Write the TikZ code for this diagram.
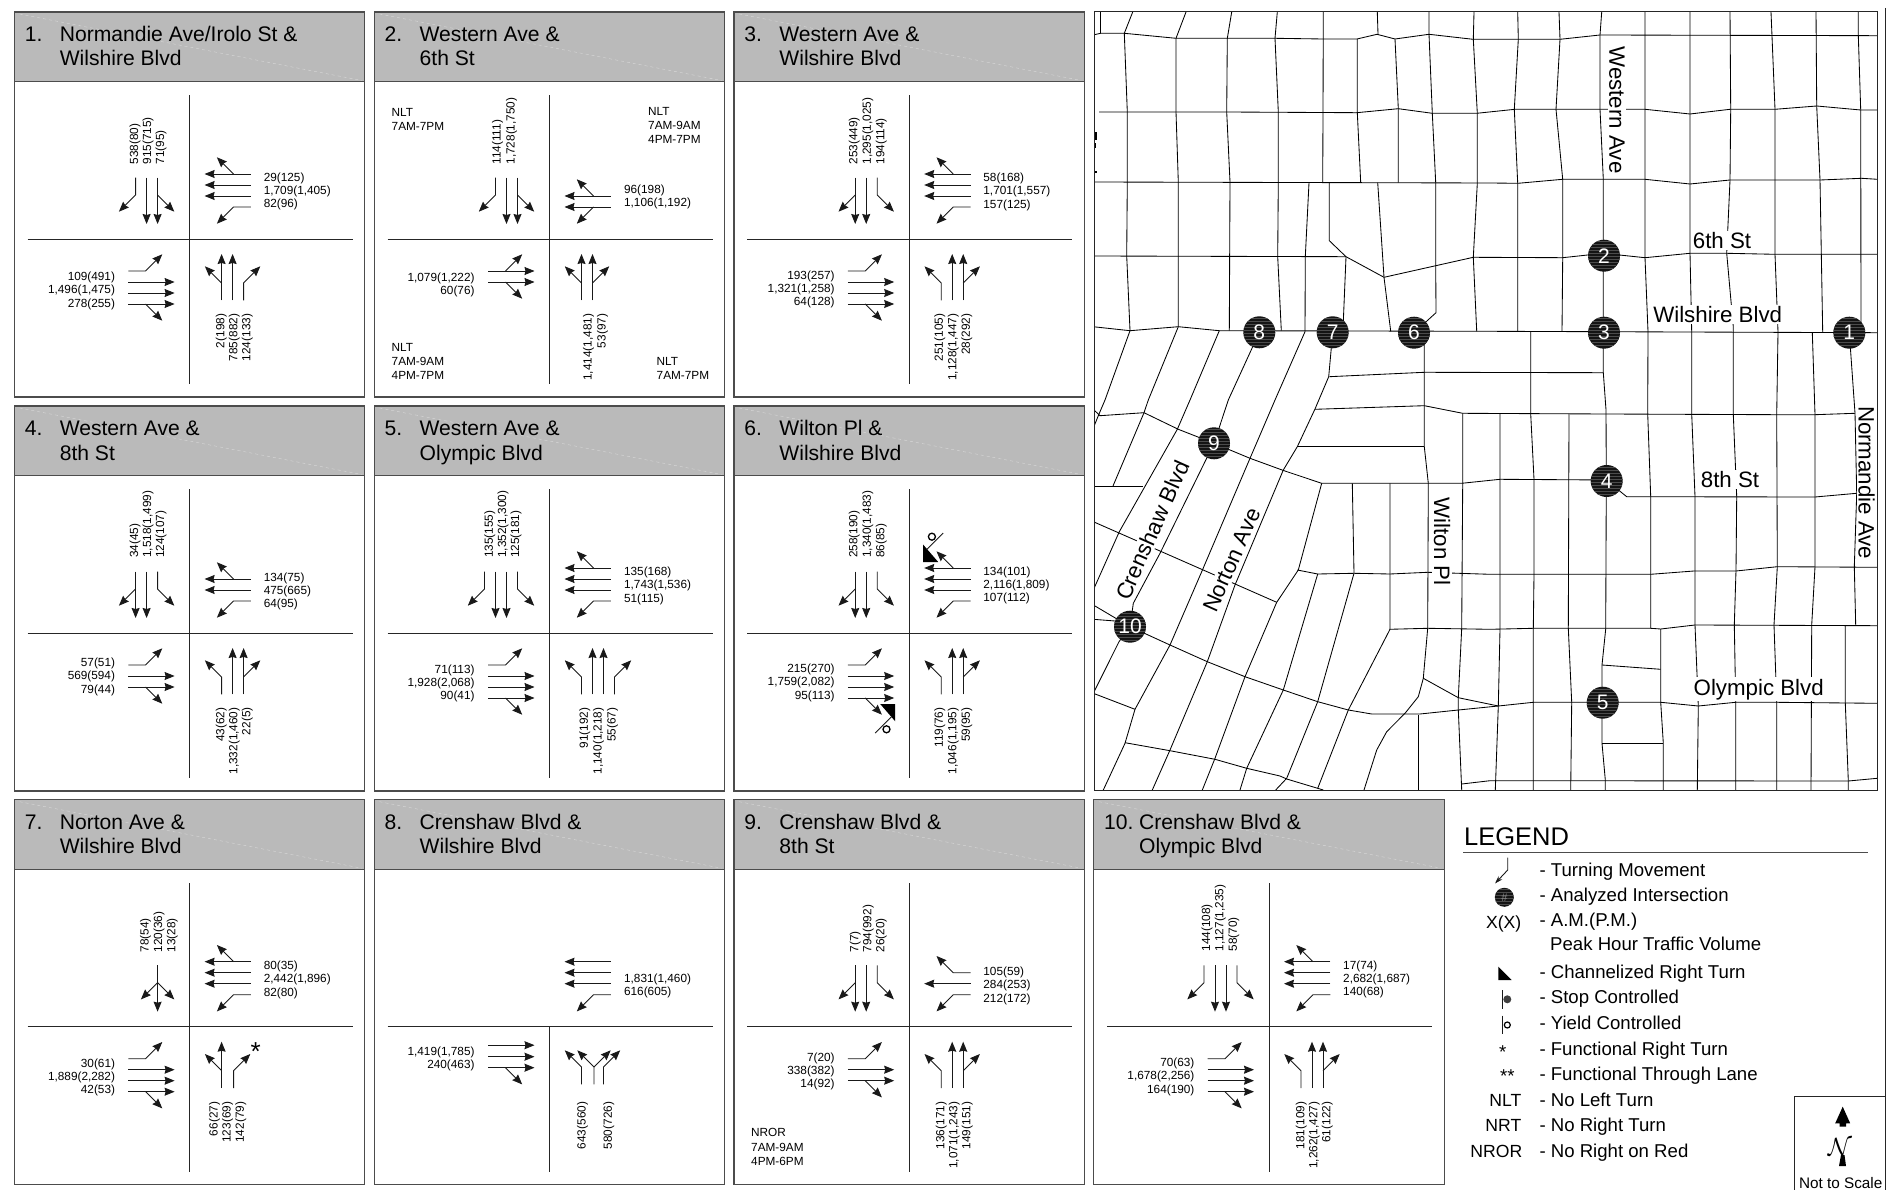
\documentclass[tikz,border=0pt]{standalone}
\usepackage{fontspec}
\setmainfont{Liberation Sans}
\usetikzlibrary{calc, arrows.meta}

% One approach lane, written for traffic going up the page: lateral offset as argument
\newcommand{\laneT}[1]{\draw[->, lane] (#1,61.3) -- (#1,15);}
\newcommand{\laneL}[1]{\draw[->, lane] (#1,61.3) -- (#1,44) -- ++(-16.7,-16.7);}
\newcommand{\laneR}[1]{\draw[->, lane] (#1,61.3) -- (#1,44) -- ++(16.7,-16.7);}
\newcommand{\laneTL}[1]{\laneT{#1}\draw[->, lane] (#1,44) -- ++(-16.7,-16.7);}
\newcommand{\laneTR}[1]{\laneT{#1}\draw[->, lane] (#1,44) -- ++(16.7,-16.7);}
\newcommand{\laneLR}[1]{\laneL{#1}\draw[->, lane] (#1,44) -- ++(16.7,-16.7);}
\newcommand{\laneTLR}[1]{\laneTL{#1}\draw[->, lane] (#1,44) -- ++(16.7,-16.7);}

% Crossing, rotation, shift along the approach, lanes
\newcommand{\arm}[4]{%
  \begin{scope}[shift={(#1)}, rotate=#2, shift={(0,#3)}]
    \foreach \lat/\kind in {#4} {\csname lane\kind\endcsname{\lat}}
  \end{scope}
}

% Crossing, east or west anchor, first line position, volumes
\newcommand{\volsH}[5]{%
  \foreach \txt [count=\k from 0] in {#5}
    \node[volume, anchor=mid #2] (#1#2\k) at ($(#1)+(#3,#4+13.2*\k+1.4)$) {\txt};
}
% Crossing, east or west anchor, first line position, step, volumes
\newcommand{\volsV}[6]{%
  \foreach \txt [count=\k from 0] in {#6}
    \node[volume, rotate=90, anchor=mid #2] (#1v#2\k) at ($(#1)+(#3+#5*\k+1.4,#4)$) {\txt};
}

% Name, crossing position, number, two title lines
\newcommand{\intbox}[6]{%
  \coordinate (#1) at (#2,#3);
  \fill[headgray] ($(#1)+(-175.2,-227)$) rectangle ($(#1)+(175.2,-157.3)$);
  \draw[headmark] ($(#1)+(-170,-225)$) -- ($(#1)+(172,-158.5)$);
  \draw[boxline] ($(#1)+(-175.2,-227)$) rectangle ($(#1)+(175.2,158)$);
  \draw[boxline] ($(#1)+(-175.2,-157.3)$) -- ($(#1)+(175.2,-157.3)$);
  \node[headtext] (#1num) at ($(#1)+(-165,-197.3)$) {#4};
  \node[headtext] (#1top) at ($(#1)+(-130,-197.3)$) {#5};
  \node[headtext] (#1low) at ($(#1)+(-130,-173)$) {#6};
  \draw[street] ($(#1)+(-162,0)$) -- ($(#1)+(163,0)$);
  \draw[street] (#1) -- ($(#1)+(0,145)$);
}

\begin{document}
\begin{tikzpicture}[x=1pt, y=-1pt, >={Stealth[length=10pt, width=8pt, inset=1pt]}]

  % Styles
  \tikzset{
    headgray/.style={fill=black!27},
    headmark/.style={white!85!black, dashed, line width=0.4pt},
    boxline/.style={black!70, line width=1.3pt},
    street/.style={black!85, line width=0.9pt},
    lane/.style={black!90, line width=0.9pt},
    headtext/.style={anchor=base west, inner sep=0pt, font=\fontsize{21.1}{25}\selectfont},
    volume/.style={inner sep=0pt, font=\fontsize{11.8}{13.5}\selectfont},
    notetext/.style={anchor=north west, align=left, inner sep=0pt, font=\fontsize{11.8}{14}\selectfont},
    road/.style={black, line width=0.85pt, line join=round},
    roadname/.style={fill=white, inner sep=1.5pt, font=\fontsize{22.3}{26}\selectfont},
    isect/.style={circle, fill=black!92, text=white, inner sep=0pt, minimum size=32pt,
      font=\fontsize{21}{25}\selectfont,
      path picture={\foreach \dy in {-14,-11,...,14}
        \draw[black!70, line width=0.4pt] ($(path picture bounding box.center)+(-17,\dy)$) -- ++(34,0);}},
    legtext/.style={anchor=base west, inner sep=0pt, font=\fontsize{18.6}{22}\selectfont},
    legkey/.style={anchor=base east, inner sep=0pt, font=\fontsize{17.6}{21}\selectfont}
  }

  \path[use as bounding box, fill=white] (0,0) rectangle (1891,1190);

  % Panel 1
  \intbox{pa}{189.6}{239}{1.}{Normandie Ave/Irolo St \&}{Wilshire Blvd}
  \arm{pa}{180}{0}{32/TL,43/T,54/R}
  \arm{pa}{90}{0}{32/L,43/T,54/T,65/TR}
  \arm{pa}{270}{0}{32/L,43/T,54/T,65/TR}
  \arm{pa}{0}{0}{32/TL,43/T,54/R}
  \volsV{pa}{west}{-55.5}{-74.3}{13}{538(80),915(715),71(95)}
  \volsH{pa}{west}{74}{-61.7}{29(125),{1,709(1,405)},82(96)}
  \volsH{pa}{east}{-74.4}{37.7}{109(491),{1,496(1,475)},278(255)}
  \volsV{pa}{east}{30.8}{74.7}{13}{2(198),785(882),124(133)}

  % Panel 2
  \intbox{pb}{549.5}{239}{2.}{Western Ave \&}{6th St}
  \draw[street] (pb) -- ($(pb)+(0,-144)$);
  \arm{pb}{180}{0}{32/TL,43/T,54/R}
  \arm{pb}{90}{0}{32/TL,43/TR}
  \arm{pb}{270}{0}{32/TL,43/TR}
  \arm{pb}{0}{0}{32/TL,43/TR}
  \volsV{pb}{west}{-52.8}{-74.3}{13.8}{114(111),{1,728(1,750)}}
  \volsH{pb}{west}{74.4}{-49.3}{96(198),{1,106(1,192)}}
  \volsH{pb}{east}{-74.8}{38}{{1,079(1,222)},60(76)}
  \volsV{pb}{east}{38}{74.7}{14}{{1,414(1,481)},53(97)}
  \node[notetext] (nltnw) at (391.5,108.5) {NLT\\7AM-7PM};
  \node[notetext] (nltne) at (648,107.5) {NLT\\7AM-9AM\\4PM-7PM};
  \node[notetext] (nltsw) at (391.5,343.5) {NLT\\7AM-9AM\\4PM-7PM};
  \node[notetext] (nltse) at (656.5,357.5) {NLT\\7AM-7PM};

  % Panel 3
  \intbox{pc}{909.2}{239}{3.}{Western Ave \&}{Wilshire Blvd}
  \arm{pc}{180}{0}{32/L,43/T,54/TR}
  \arm{pc}{90}{0}{32/L,43/T,54/T,65/TR}
  \arm{pc}{270}{0}{32/L,43/T,54/T,65/TR}
  \arm{pc}{0}{0}{32/L,43/T,54/TR}
  \volsV{pc}{west}{-56}{-74.3}{13.6}{253(449),{1,295(1,025)},194(114)}
  \volsH{pc}{west}{74}{-61.3}{58(168),{1,701(1,557)},157(125)}
  \volsH{pc}{east}{-74.4}{36.3}{193(257),{1,321(1,258)},64(128)}
  \volsV{pc}{east}{29.7}{74.7}{13.5}{251(105),{1,128(1,447)},28(292)}

  % Panel 4
  \intbox{pd}{189.6}{633}{4.}{Western Ave \&}{8th St}
  \arm{pd}{180}{0}{32/L,43/T,54/TR}
  \arm{pd}{90}{0}{32/L,43/T,54/TR}
  \arm{pd}{270}{0}{32/L,43/T,54/TR}
  \arm{pd}{0}{0}{32/L,43/T,54/TR}
  \volsV{pd}{west}{-55.5}{-75}{13}{34(45),{1,518(1,499)},124(107)}
  \volsH{pd}{west}{74}{-55.7}{134(75),475(665),64(95)}
  \volsH{pd}{east}{-74.4}{29.7}{57(51),569(594),79(44)}
  \volsV{pd}{east}{30.8}{74.3}{13}{43(62),{1,332(1,460)},22(5)}

  % Panel 5
  \intbox{pe}{549.5}{633}{5.}{Western Ave \&}{Olympic Blvd}
  \arm{pe}{180}{0}{32/L,43/T,54/T,65/R}
  \arm{pe}{90}{0}{32/L,43/T,54/T,65/TR}
  \arm{pe}{270}{0}{32/L,43/T,54/T,65/TR}
  \arm{pe}{0}{0}{32/L,43/T,54/T,65/R}
  \volsV{pe}{west}{-60.6}{-75}{13.1}{135(155),{1,352(1,300)},125(181)}
  \volsH{pe}{west}{74.4}{-61.3}{135(168),{1,743(1,536)},51(115)}
  \volsH{pe}{east}{-74.8}{36}{71(113),{1,928(2,068)},90(41)}
  \volsV{pe}{east}{34.4}{74.3}{13.8}{91(192),{1,140(1,218)},55(67)}

  % Panel 6
  \intbox{pf}{909.2}{633}{6.}{Wilton Pl \&}{Wilshire Blvd}
  \arm{pf}{180}{0}{32/L,43/T,54/TR}
  \arm{pf}{90}{0}{32/L,43/T,54/T,65/TR}
  \arm{pf}{270}{0}{32/L,43/T,54/T,65/TR}
  \arm{pf}{0}{0}{32/L,43/T,54/TR}
  \volsV{pf}{west}{-56}{-75}{13.6}{258(190),{1,340(1,483)},86(85)}
  \volsH{pf}{west}{74}{-61.7}{134(101),{2,116(1,809)},107(112)}
  \volsH{pf}{east}{-74.4}{35.7}{215(270),{1,759(2,082)},95(113)}
  \volsV{pf}{east}{29.7}{74.3}{13.5}{119(76),{1,046(1,195)},59(95)}
  % Channelized right turns with yield marks
  \foreach \ang in {0,180} {
    \begin{scope}[shift={(pf)}, rotate=\ang]
      \fill (14,-88.3) -- (14,-71) -- (29,-71) -- cycle;
      \draw[lane] (34,-100) -- (17.3,-83.3);
      \draw[line width=1.3pt] (22.7,-96.3) circle (3.5);
    \end{scope}
  }

  % Panel 7
  \intbox{pg}{189.6}{1026.7}{7.}{Norton Ave \&}{Wilshire Blvd}
  \arm{pg}{180}{0}{32/TLR}
  \arm{pg}{90}{0}{32/L,43/T,54/T,65/TR}
  \arm{pg}{270}{0}{32/L,43/T,54/T,65/TR}
  \arm{pg}{0}{0}{32/TL,44/R}
  \volsV{pg}{west}{-45}{-74.3}{13.4}{78(54),120(36),13(28)}
  \volsH{pg}{west}{74}{-61}{80(35),{2,442(1,896)},82(80)}
  \volsH{pg}{east}{-74.4}{36.3}{30(61),{1,889(2,282)},42(53)}
  \volsV{pg}{east}{23.9}{75}{13.2}{66(27),123(69),142(79)}
  \node[anchor=base, inner sep=0pt, font=\fontsize{26}{30}\selectfont] (star) at (255.6,1060.5) {*};

  % Panel 8
  \intbox{ph}{549.5}{1026.7}{8.}{Crenshaw Blvd \&}{Wilshire Blvd}
  \arm{ph}{90}{0}{32/L,43/T,54/T,65/T}
  \arm{ph}{270}{0}{18.5/T,30/T,41/TR}
  \arm{ph}{0}{-3.7}{32/L,44.5/LR,54/R}
  \volsH{ph}{west}{74.4}{-48.3}{{1,831(1,460)},616(605)}
  \volsH{ph}{east}{-74.8}{25}{{1,419(1,785)},240(463)}
  \volsV{ph}{east}{32}{75}{26.3}{643(560),580(726)}

  % Panel 9
  \intbox{pi}{909.2}{1026.7}{9.}{Crenshaw Blvd \&}{8th St}
  \arm{pi}{180}{0}{32/L,43/T,54/TR}
  \arm{pi}{90}{0}{32/L,43/T,54/R}
  \arm{pi}{270}{0}{32/L,43/T,54/TR}
  \arm{pi}{0}{0}{32/L,43/T,54/TR}
  \volsV{pi}{west}{-55}{-74.3}{13}{7(7),794(992),26(20)}
  \volsH{pi}{west}{74}{-55}{105(59),284(253),212(172)}
  \volsH{pi}{east}{-74.4}{30.7}{7(20),338(382),14(92)}
  \volsV{pi}{east}{31}{75}{13}{136(171),{1,071(1,243)},149(151)}
  \node[notetext, font=\fontsize{11.8}{14.5}\selectfont] (nrornote) at (751,1128.5) {NROR\\7AM-9AM\\4PM-6PM};

  % Panel 10
  \intbox{pj}{1269}{1026.7}{10.}{Crenshaw Blvd \&}{Olympic Blvd}
  \arm{pj}{180}{0}{32/L,43/T,54/T,65/R}
  \arm{pj}{90}{0}{32/L,43/T,54/T,65/TR}
  \arm{pj}{270}{0}{32/L,43/T,54/T,65/TR}
  \arm{pj}{0}{0}{32/L,43/T,54/TR}
  \volsV{pj}{west}{-63}{-75}{13.4}{144(108),{1,127(1,235)},58(70)}
  \volsH{pj}{west}{74}{-61.7}{17(74),{2,682(1,687)},140(68)}
  \volsH{pj}{east}{-74.4}{36}{70(63),{1,678(2,256)},164(190)}
  \volsV{pj}{east}{31.2}{75}{13}{181(109),{1,262(1,427)},61(122)}

  % Upper arms of the crossings
  \foreach \c in {pa,pc,pd,pe,pf,pg,pi,pj}
    \draw[street] (\c) -- ($(\c)+(0,-144)$);

  % Street grid of the map
  \begin{scope}
    \clip (1094,12) rectangle (1877.3,790);

    % East-west streets
    \draw[road] (1093,35) -- (1100.7,33.3) -- (1124.3,33.3) -- (1176,38.3) -- (1275,38.3) -- (1323,39) -- (1357,39) -- (1377,34.3) -- (1395,39) -- (1429,34.3) -- (1473,39.3) -- (1560,39.3) -- (1600,35) -- (1877.3,35.7);
    \draw[road] (1099,112) -- (1226.7,112) -- (1356.7,112.7) -- (1398.3,108.7) -- (1432.3,113.3) -- (1476.7,113.3) -- (1515,109.3) -- (1645,109.3) -- (1690,114) -- (1730,109.3) -- (1775,109.3) -- (1816.7,106) -- (1860.7,110) -- (1877.3,110);
    \draw[road] (1093,182) -- (1490,183) -- (1518,183.3) -- (1562.7,179.3) -- (1645,179.3) -- (1690,184) -- (1730,180) -- (1820,180) -- (1861.7,178.3) -- (1877.3,179.3);
    \draw[road] (1093,256) -- (1346,256.7) -- (1384,277.3) -- (1473.3,257.3) -- (1562.7,257.7) -- (1603.3,253.3) -- (1645,257.7) -- (1690,253.3) -- (1726.7,253.3) -- (1775,254.3) -- (1877.3,254.3);
    \draw[road] (1329.3,182.7) -- (1329.3,240.7) -- (1346,256.7);
    \draw[road] (1093,326.7) -- (1130,330.7) -- (1178.3,326.7) -- (1219.3,330.7) -- (1490,331.3) -- (1877.3,332.7);
    \draw[road] (1329.3,376.7) -- (1424.3,372.3) -- (1603.3,372.7);
    \draw[road] (1094,410) -- (1100,415.7) -- (1144,412.7) -- (1178.3,429.3) -- (1214,443.3) -- (1250,458.3) -- (1284,470.7) -- (1321.7,483.3) -- (1461.7,483.3) -- (1500,479.3) -- (1606,480) -- (1626.7,496.7) -- (1815,497) -- (1856.7,493.3);
    \draw[road] (1315,409.3) -- (1424.3,405.7) -- (1462.7,413.3) -- (1606,414) -- (1776.7,414.7) -- (1815,414.7) -- (1855,413.3);
    \draw[road] (1297.3,446.7) -- (1424.3,446.7);
    \draw[road] (1093.3,486.7) -- (1143.3,486.7);
    \draw[road] (1093.3,521.7) -- (1276.7,602.3);
    \draw[road] (1297.3,570) -- (1317.7,574) -- (1354,573.3) -- (1390,574) -- (1427.7,572.3) -- (1490,574.3) -- (1650.7,574.3) -- (1694,571) -- (1736,571) -- (1777.3,566.7) -- (1877.3,567.3);
    \draw[road] (1389.3,629.3) -- (1427.7,628.3) -- (1490,629.3) -- (1533.3,628.3) -- (1650.7,628.3) -- (1660.7,629) -- (1695,625) -- (1877.3,625.7);
    \draw[road] (1602,665) -- (1660.7,669.3);
    \draw[road] (1093.3,605) -- (1130,626.7) -- (1170,645) -- (1207.3,661.7) -- (1245,676.7) -- (1283.3,690) -- (1317.7,701.7) -- (1348.3,710) -- (1371.7,714) -- (1420,714) -- (1458.3,710) -- (1498.3,706) -- (1533.3,702.3) -- (1660.7,702.3) -- (1698.3,706) -- (1735.7,702.3) -- (1776.7,702.3) -- (1877.3,703.3);
    \draw[road] (1093.3,619.3) -- (1115,621);
    \draw[road] (1423.3,678.3) -- (1458.3,697.7) -- (1498.3,706);
    \draw[road] (1093.3,693.3) -- (1135,709.3);
    \draw[road] (1602,743.3) -- (1663.3,743.3);
    \draw[road] (1125,742.7) -- (1170,750.7) -- (1215,759.3) -- (1246.7,768.3) -- (1280,776) -- (1286.7,779) -- (1323.3,790);
    \draw[road] (1461.7,784) -- (1490,780.7) -- (1848.3,781) -- (1877.3,778.3);

    % North-south streets, west part
    \draw[road] (1100.7,12) -- (1100.7,33.3);
    \draw[road] (1132.7,12) -- (1124.3,33.3) -- (1127.3,112) -- (1127.3,182) -- (1126.7,256) -- (1130,330.7) -- (1105,400) -- (1098.3,415.7) -- (1093.3,428);
    \draw[road] (1186,12) -- (1176,38.3) -- (1176,112) -- (1178.3,182) -- (1178.3,326.7) -- (1148.3,400) -- (1144,412.7) -- (1112.7,486.7);
    \draw[road] (1231.7,12) -- (1227.3,38.3) -- (1226.7,112) -- (1230,182) -- (1229.3,330.7);
    \draw[road] (1219.3,330.7) -- (1190,400) -- (1177.3,429.3) -- (1119.3,531.7) -- (1093.3,590);
    \draw[road] (1259.3,332.3) -- (1228.3,400) -- (1214,443.3) -- (1160,553.3) -- (1133.3,603.3) -- (1130,626.7) -- (1119,641.7) -- (1093.3,693.3);
    \draw[road] (1277.3,12) -- (1275,38.3) -- (1278.3,112) -- (1278.3,182) -- (1277.7,256.7) -- (1281.3,330.7);
    \draw[road] (1309,182.7) -- (1305.3,256.7) -- (1305,331.7) -- (1275,400) -- (1250,458.3) -- (1201.7,571.7) -- (1170,645) -- (1135,709.3) -- (1125,743.3) -- (1103.3,790);
    \draw[road] (1323.3,12) -- (1323,112.7) -- (1322.7,182.7);
    \draw[road] (1343.3,321.7) -- (1346,256.7);
    \draw[road] (1332.7,332.3) -- (1328.7,376.7) -- (1315,409) -- (1297.3,446.7) -- (1283.3,470) -- (1235,585) -- (1207.3,661.7) -- (1170,750) -- (1152.3,790);
    \draw[road] (1321.7,483.3) -- (1298.3,570) -- (1276.7,602.3) -- (1245,676.7) -- (1215,758.3) -- (1202.3,790);
    \draw[road] (1317.7,574) -- (1283.3,690) -- (1246.7,768.3) -- (1240,790);
    \draw[road] (1352.3,483.3) -- (1354,573.3) -- (1317.7,701.7) -- (1286.7,778.3) -- (1275.7,790);
    \draw[road] (1390,483.3) -- (1390,629.3) -- (1348.3,710) -- (1317.7,788.3);
    \draw[road] (1357.3,39) -- (1357.3,112.7) -- (1360.7,182.7);
    \draw[road] (1377.3,12) -- (1378,34.3);
    \draw[road] (1395,39) -- (1398.3,108.7) -- (1398.3,182.7);
    \draw[road] (1377.7,182.7) -- (1384,277.3) -- (1390.7,331.3);
    \draw[road] (1429,12) -- (1429,34.3) -- (1432.3,113.3) -- (1435.7,182.7) -- (1435.7,265) -- (1436,312.7) -- (1414,332.7);
    \draw[road] (1424.3,331.7) -- (1424.3,446.7) -- (1428.3,483.3) -- (1427.7,628.3) -- (1424.3,666.7) -- (1423.3,678.3) -- (1418.3,696.7) -- (1405,713.3) -- (1386.7,731.7) -- (1376.7,750) -- (1364,790);
    \draw[road] (1418.3,715) -- (1418.3,790);
    \draw[road] (1474,12) -- (1473.3,39.3) -- (1477.3,113.3) -- (1477.3,183.3) -- (1473.3,257.3) -- (1476.7,331.3);
    \draw[road] (1462.7,413.3) -- (1462.7,483.3) -- (1461.7,628.3) -- (1458.3,697.7) -- (1458.3,710) -- (1461.7,790);

    % North-south streets, east part
    \draw[road] (1500,414) -- (1500,629.3) -- (1498.3,706) -- (1495.3,790);
    \draw[road] (1517.7,12) -- (1518.3,39.3) -- (1514.3,109.3) -- (1517.7,183.3) -- (1517.7,331.7);
    \draw[road] (1530.7,331.7) -- (1530.7,414) -- (1534,479.3) -- (1534,574.3) -- (1533.3,628.3) -- (1533.3,790);
    \draw[road] (1559,12) -- (1560,39.3) -- (1556,109.3) -- (1562.7,179.3) -- (1562.7,257.7) -- (1562,331.7);
    \draw[road] (1569,414) -- (1568.3,628.3) -- (1571.7,702.3) -- (1570.7,790);
    \draw[road] (1601.7,12) -- (1600,35) -- (1600,109.3) -- (1603.3,179.3) -- (1603.3,372.7) -- (1606,410) -- (1606.3,481) -- (1605.7,629) -- (1602,665) -- (1602,743.3) -- (1605.3,780) -- (1605.3,790);
    \draw[road] (1645,12) -- (1645,257.7) -- (1648,331.7) -- (1647.7,414) -- (1650.7,496.7) -- (1650.7,628.3);
    \draw[road] (1660.7,629) -- (1660.7,702.3) -- (1663.3,743.3) -- (1663.3,790);
    \draw[road] (1690,12) -- (1690,114) -- (1690,253.3) -- (1691.7,332) -- (1691.7,414) -- (1695,496.7) -- (1695,625) -- (1698.3,706) -- (1697.3,790);
    \draw[road] (1730,12) -- (1730.7,109.3) -- (1730,180) -- (1726.7,253.3) -- (1733.3,327) -- (1733.3,414.7) -- (1736.7,496.7) -- (1736,570) -- (1734.3,625) -- (1735.7,702.3) -- (1735.7,790);
    \draw[road] (1771,12) -- (1775,109.3) -- (1775,254.3) -- (1778,332) -- (1776.7,414.7) -- (1777.3,566.7) -- (1774,625) -- (1776.7,702.3) -- (1776.7,790);
    \draw[road] (1816,12) -- (1816.7,106) -- (1820,180) -- (1822.7,332.7);
    \draw[road] (1812.3,332.7) -- (1815,414.7) -- (1815,566.7) -- (1811.7,625) -- (1811,790);
    \draw[road] (1845.3,625.7) -- (1845.3,703.3) -- (1848.3,781) -- (1848.3,790);
    \draw[road] (1858.3,12) -- (1858.3,35.7) -- (1860.7,110) -- (1861,332.7);
    \draw[road] (1849.3,332.7) -- (1855,413.3) -- (1856.7,493.3) -- (1854.3,566.7) -- (1855.7,625.7);

    % Small marks on the west edge
    \fill (1093,131.7) rectangle (1097,140);
    \fill (1093,143) rectangle (1095.5,148);
    \fill (1093,171) rectangle (1097,172.7);
  \end{scope}
  \draw[black!85, line width=1pt] (1094,12) rectangle (1877.3,790);

  % Street names
  \node[roadname, rotate=-90] (western) at (1617,110) {Western Ave};
  \node[roadname, anchor=base] (sixth) at (1722,248.3) {6th St};
  \node[roadname, anchor=base] (wilshire) at (1717.7,322.7) {Wilshire Blvd};
  \node[roadname, anchor=base] (eighth) at (1730,487.3) {8th St};
  \node[roadname, anchor=base] (olympic) at (1758.7,695) {Olympic Blvd};
  \node[roadname, rotate=-90] (normandie) at (1866.5,482.7) {Normandie Ave};
  \node[roadname, rotate=-90] (wilton) at (1442,541.7) {Wilton Pl};
  \node[roadname, rotate=66] (crenshaw) at (1152.3,530) {Crenshaw Blvd};
  \node[roadname, rotate=66] (norton) at (1231.7,560) {Norton Ave};

  % Analyzed intersections
  \node[isect] (m1) at (1849.3,332.7) {1};
  \node[isect] (m2) at (1604,255.7) {2};
  \node[isect] (m3) at (1604,332.7) {3};
  \node[isect] (m4) at (1606.7,481) {4};
  \node[isect] (m5) at (1602.7,702.7) {5};
  \node[isect] (m6) at (1414,332.7) {6};
  \node[isect] (m7) at (1332.7,332.3) {7};
  \node[isect] (m8) at (1259.3,332.3) {8};
  \node[isect] (m9) at (1214,443.3) {9};
  \node[isect] (m10) at (1130,626.7) {10};

  % Legend
  \node[anchor=base west, inner sep=0pt, font=\fontsize{25.5}{30}\selectfont] (legend) at (1464,845) {LEGEND};
  \draw[black!70, line width=1pt] (1463,852.3) -- (1867.7,852.3);
  \draw[lane, -{Stealth[length=8pt, width=5pt]}] (1507.7,857.7) -- (1507.7,870) -- (1495,883.5);
  \node[isect, minimum size=19pt, text=black!45, font=\fontsize{11}{13}\selectfont] (legint) at (1504.3,897.3) {\#};
  \fill (1498.3,966.7) -- (1498.3,980) -- (1511.7,980) -- cycle;
  \draw[lane] (1502.3,990) -- (1502.3,1009);
  \fill[black!75] (1507.3,999.3) circle (4);
  \draw[lane] (1502.3,1015.7) -- (1502.3,1034);
  \draw[line width=1.2pt] (1507.3,1025) circle (3);
  \node[legkey] (keyx) at (1521.5,928) {X(X)};
  \node[anchor=base, inner sep=0pt, font=\fontsize{18.6}{22}\selectfont] (keyone) at (1502.7,1058) {*};
  \node[anchor=base, inner sep=0pt, font=\fontsize{18.6}{22}\selectfont] (keytwo) at (1507.3,1082) {**};
  \node[legkey] (keynlt) at (1521.5,1106) {NLT};
  \node[legkey] (keynrt) at (1521.5,1131.7) {NRT};
  \node[legkey] (keynror) at (1522.5,1157) {NROR};
  \node[legtext] (legturn) at (1539.3,876) {- Turning Movement};
  \node[legtext] (legana) at (1539.3,901) {- Analyzed Intersection};
  \node[legtext] (legam) at (1539.3,926.7) {- A.M.(P.M.)};
  \node[legtext] (legpeak) at (1550,950) {Peak Hour Traffic Volume};
  \node[legtext] (legchan) at (1539.3,978.3) {- Channelized Right Turn};
  \node[legtext] (legstop) at (1539.3,1003.7) {- Stop Controlled};
  \node[legtext] (legyield) at (1539.3,1029) {- Yield Controlled};
  \node[legtext] (legfun) at (1539.3,1055) {- Functional Right Turn};
  \node[legtext] (legthru) at (1539.3,1080.3) {- Functional Through Lane};
  \node[legtext] (legnlt) at (1539.3,1106) {- No Left Turn};
  \node[legtext] (legnrt) at (1539.3,1131.7) {- No Right Turn};
  \node[legtext] (legnror) at (1539.3,1157) {- No Right on Red};

  % North arrow box
  \draw[black!85, line width=1pt] (1885.7,8) -- (1885.7,1190);
  \draw[black!85, line width=1pt] (1794,1190) -- (1794,1096) -- (1885.7,1096);
  \fill (1842.7,1106.7) -- (1850.2,1123.3) -- (1846,1123.3) -- (1846,1126.7) -- (1839.5,1126.7) -- (1839.5,1123.3) -- (1835.2,1123.3) -- cycle;
  \node[inner sep=0pt, font=\fontsize{30}{34}\selectfont] (north) at (1840,1146.7) {$\mathcal{N}$};
  \fill (1841,1155) -- (1844.5,1155) -- (1846,1166) -- (1839,1166) -- cycle;
  \node[anchor=base, inner sep=0pt, font=\fontsize{15.3}{18}\selectfont] (notscale) at (1840.7,1188) {Not to Scale};

\end{tikzpicture}
\end{document}
